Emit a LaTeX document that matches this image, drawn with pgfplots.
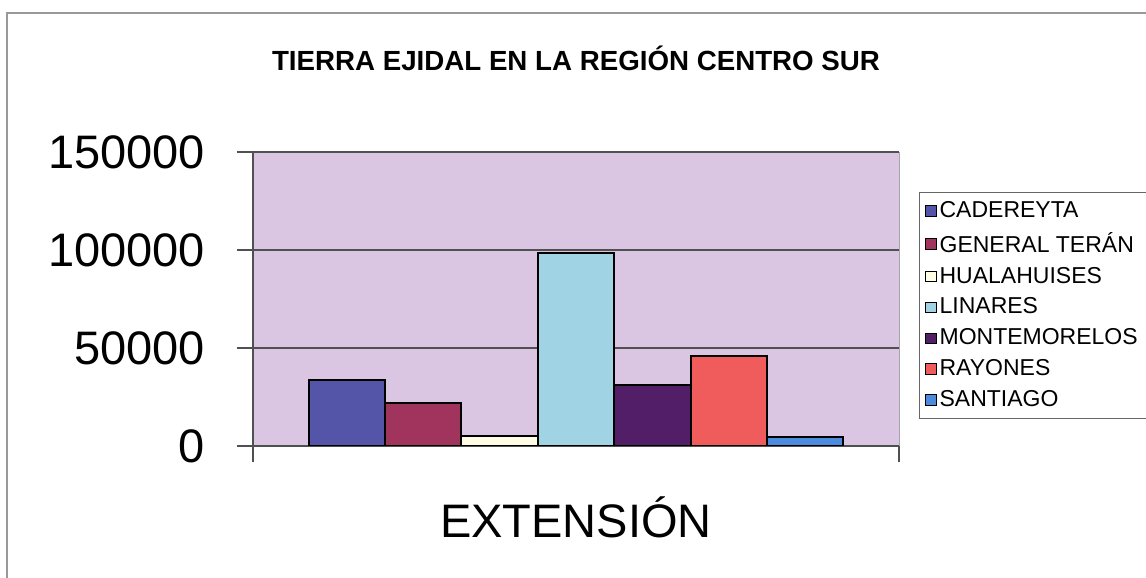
\documentclass[border=0pt]{standalone}
\usepackage{fontspec}
\setmainfont{Liberation Sans}
\usepackage{pgfplots}
\pgfplotsset{compat=1.18}
\definecolor{plotbg}{RGB}{218,197,226}
\definecolor{c1}{RGB}{84,84,168}
\definecolor{c2}{RGB}{160,52,92}
\definecolor{c3}{RGB}{255,253,228}
\definecolor{c4}{RGB}{160,212,228}
\definecolor{c5}{RGB}{82,30,104}
\definecolor{c6}{RGB}{240,92,92}
\definecolor{c7}{RGB}{76,140,222}
\definecolor{gridc}{RGB}{80,80,80}
\begin{document}
\begin{tikzpicture}
\useasboundingbox (-126.5pt,-66pt) rectangle (446.5pt,223pt);
\draw[gray!80, line width=0.8pt] (-123pt,-66pt) -- (-123pt,216.5pt) -- (446.5pt,216.5pt);
\begin{axis}[
  at={(0pt,0pt)}, anchor=south west,
  scale only axis, width=323pt, height=147pt,
  ybar=0pt, bar width=38.2pt,
  xmin=-1, xmax=1, ymin=0, ymax=150000,
  xtick={-1,1}, xticklabels={,},
  ytick={0,50000,100000,150000},
  scaled y ticks=false,
  /pgf/number format/assume math mode=true,
  yticklabel style={/pgf/number format/fixed, /pgf/number format/1000 sep={}, font=\fontsize{23.5}{26}\selectfont, xshift=-12.5pt},
  tick align=outside, major tick length=8pt,
  tick style={gridc, line width=0.6pt},
  ymajorgrids, grid style={gridc, line width=0.6pt},
  axis x line*=bottom, axis y line*=left,
  axis line style={-, gridc, line width=0.7pt},
  axis background/.style={fill=plotbg, draw=gray!70},
  title={TIERRA EJIDAL EN LA REGIÓN CENTRO SUR},
  title style={at={(0.5,1.277)}, anchor=center, font=\bfseries\fontsize{13.85}{16}\selectfont},
  xlabel={EXTENSIÓN},
  xlabel style={at={(0.5,-0.242)}, anchor=center, font=\fontsize{23.5}{26}\selectfont},
  legend style={at={(1.031,0.864)}, anchor=north west, draw=gray!80!black, fill=white,
    font=\fontsize{11.5}{13}\selectfont, row sep=2.9pt, inner xsep=3pt, inner ysep=3pt,
    nodes={inner sep=1.5pt}, cells={anchor=west}},
  legend cell align=left,
  legend image code/.code={\draw[#1, draw=black, line width=0.4pt] (0pt,-2.6pt) rectangle (5.2pt,2.6pt);},
]
\addplot[fill=c1, draw=black, line width=1pt] coordinates {(0,33500)};
\addplot[fill=c2, draw=black, line width=1pt] coordinates {(0,22000)};
\addplot[fill=c3, draw=black, line width=1pt] coordinates {(0,5000)};
\addplot[fill=c4, draw=black, line width=1pt] coordinates {(0,98500)};
\addplot[fill=c5, draw=black, line width=1pt] coordinates {(0,31000)};
\addplot[fill=c6, draw=black, line width=1pt] coordinates {(0,46000)};
\addplot[fill=c7, draw=black, line width=1pt] coordinates {(0,4500)};
\legend{CADEREYTA, GENERAL TERÁN, HUALAHUISES, LINARES, MONTEMORELOS, RAYONES, SANTIAGO}
\end{axis}
\end{tikzpicture}
\end{document}
